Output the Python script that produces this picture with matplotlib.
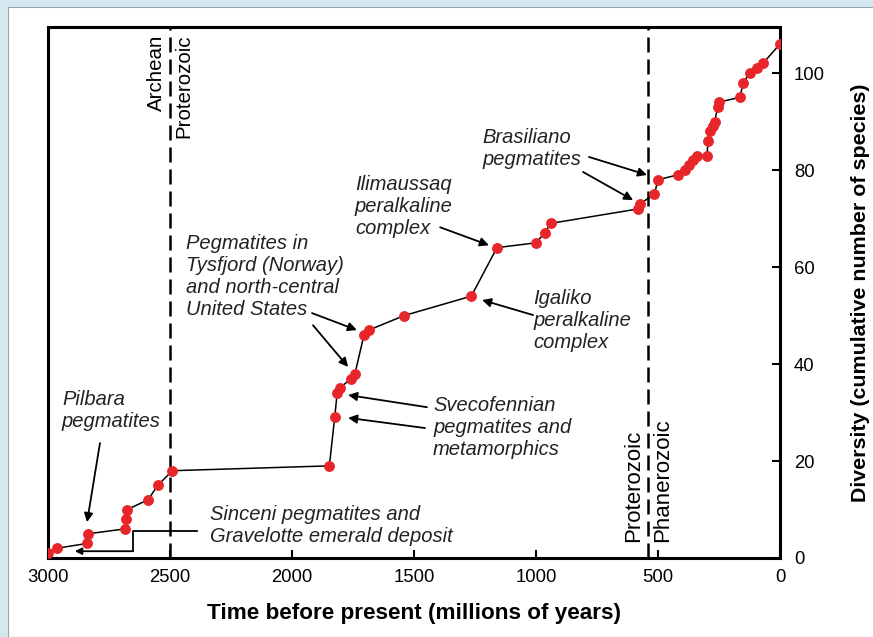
import matplotlib
matplotlib.use('Agg')
import matplotlib.pyplot as plt
from matplotlib import font_manager
from matplotlib.patches import Rectangle

# cumulative species diversity through time
ages = [3000, 2965, 2840, 2835, 2685, 2682, 2675, 2590, 2550, 2490,
        1847, 1825, 1815, 1805, 1758, 1742, 1705, 1685, 1540, 1265,
        1160, 1000, 965, 940, 580, 575, 515, 500, 420, 390,
        375, 355, 340, 300, 294, 287, 275, 268, 255, 250,
        165, 150, 125, 95, 70, 0]
counts = [1, 2, 3, 5, 6, 8, 10, 12, 15, 18,
          19, 29, 34, 35, 37, 38, 46, 47, 50, 54,
          64, 65, 67, 69, 72, 73, 75, 78, 79, 80,
          81, 82, 83, 83, 86, 88, 89, 90, 93, 94,
          95, 98, 100, 101, 102, 106]

eon_bounds = [2500, 541]
x_ticks = [3000, 2500, 2000, 1500, 1000, 500, 0]
y_ticks = [0, 20, 40, 60, 80, 100]

# annotation text: (label, x, y)
labels = [
    ('Pilbara\npegmatites', 2943, 30.4),
    ('Sinceni pegmatites and\nGravelotte emerald deposit', 2336, 6.8),
    ('Pegmatites in\nTysfjord (Norway)\nand north-central\nUnited States', 2434, 58.0),
    ('Svecofennian\npegmatites and\nmetamorphics', 1422, 27.0),
    ('Igaliko\nperalkaline\ncomplex', 1010, 48.9),
    ('Ilimaussaq\nperalkaline\ncomplex', 1742, 72.5),
    ('Brasiliano\npegmatites', 1221, 84.4),
]
# arrows: (start x, start y, end x, end y)
arrows = [
    (2787, 23.7, 2840, 7.4),
    (1918, 50.5, 1734, 47.0),
    (1914, 48.0, 1770, 39.4),
    (1447, 31.1, 1770, 33.6),
    (1455, 26.8, 1770, 28.9),
    (1012, 50.1, 1221, 53.2),
    (1393, 68.2, 1193, 64.5),
    (783, 82.7, 545, 79.0),
    (807, 79.6, 602, 73.8),
]
# bracket for Sinceni / Gravelotte
bracket_x = [2389, 2652, 2652, 2890]
bracket_y = [5.6, 5.6, 1.4, 1.4]

plt.rcParams['font.family'] = ['Liberation Sans', 'DejaVu Sans']

# tick numbers look condensed in the original
installed = {f.name for f in font_manager.fontManager.ttflist}
if 'Liberation Sans Narrow' in installed:
    tick_font, tick_size = 'Liberation Sans Narrow', 15.5
else:
    tick_font, tick_size = 'Liberation Sans', 13.3

fig = plt.figure(figsize=(8.73, 6.37), dpi=100)
fig.patch.set_facecolor('#d3e8ef')
fig.patches.append(Rectangle((8 / 873, 0), 1, 1 - 7 / 637, transform=fig.transFigure,
                             facecolor='white', edgecolor='#9aa5a8', lw=0.8, zorder=-10))

ax = fig.add_axes([48 / 873, 1 - 558 / 637, 732 / 873, 531 / 637])
ax.set_facecolor('white')

for b in eon_bounds:
    ax.axvline(b, color='black', lw=1.8, dashes=(6, 2.8), zorder=1)

ax.plot(ages, counts, color='black', lw=1.1, zorder=2)
ax.plot(ages, counts, 'o', color='#e8262a', ms=6.8, mec='#e8262a', zorder=3)

ax.set_xlim(3000, 0)
ax.set_ylim(0, 109.5)
ax.set_xticks(x_ticks)
ax.set_yticks(y_ticks)

ax.yaxis.tick_right()
ax.yaxis.set_label_position('right')
ax.tick_params(axis='x', direction='in', length=6, width=1.5, pad=8)
ax.tick_params(axis='y', direction='in', length=6, width=1.5, pad=10,
               left=False, right=True)
for lab in ax.get_xticklabels() + ax.get_yticklabels():
    lab.set_fontfamily(tick_font)
    lab.set_fontsize(tick_size)
for s in ax.spines.values():
    s.set_linewidth(2.2)

ax.set_xlabel('Time before present (millions of years)', fontsize=16.2, fontweight='bold', labelpad=12)
ax.set_ylabel('Diversity (cumulative number of species)', fontsize=15.4, fontweight='bold', labelpad=19)

# eon labels
ax.annotate('Archean', (2500, 0.985), xycoords=('data', 'axes fraction'), xytext=(-3, 0),
            textcoords='offset points', rotation=90, ha='right', va='top', fontsize=14.8)
ax.annotate('Proterozoic', (2500, 0.985), xycoords=('data', 'axes fraction'), xytext=(3, 0),
            textcoords='offset points', rotation=90, ha='left', va='top', fontsize=14.8)
ax.annotate('Proterozoic', (541, 3.3), xytext=(-3, 0), textcoords='offset points',
            rotation=90, ha='right', va='bottom', fontsize=16)
ax.annotate('Phanerozoic', (541, 3.3), xytext=(3, 0), textcoords='offset points',
            rotation=90, ha='left', va='bottom', fontsize=16)

for txt, x, y in labels:
    ax.text(x, y, txt, style='italic', fontsize=14.5, ha='left', va='center', color='#222222')

for x0, y0, x1, y1 in arrows:
    ax.annotate('', xy=(x1, y1), xytext=(x0, y0),
                arrowprops=dict(arrowstyle='-|>', color='black', lw=1.3,
                                mutation_scale=13, shrinkA=0, shrinkB=0))

ax.plot(bracket_x[:-1], bracket_y[:-1], color='black', lw=1.3)
ax.annotate('', xy=(bracket_x[-1], bracket_y[-1]), xytext=(bracket_x[-2], bracket_y[-2]),
            arrowprops=dict(arrowstyle='-|>', color='black', lw=1.3,
                            mutation_scale=10, shrinkA=0, shrinkB=0))

fig.savefig('out.png', dpi=100, facecolor=fig.get_facecolor())
